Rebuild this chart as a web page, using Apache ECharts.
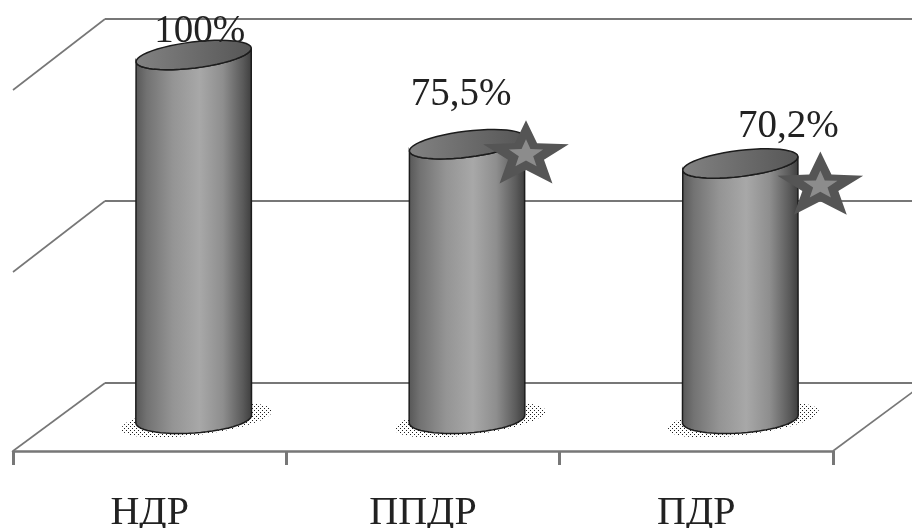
<!DOCTYPE html>
<html>
<head>
<meta charset="utf-8">
<style>html,body{margin:0;padding:0;background:#fff}#c{width:912px;height:528px}</style>
<script src="https://cdn.jsdelivr.net/npm/echarts@6/dist/echarts.min.js"></script>
</head>
<body>
<div id="c"></div>
<script>
const categories = ['НДР', 'ППДР', 'ПДР'];
const values = [100, 75.5, 70.2];
const valueLabels = ['100%', '75,5%', '70,2%'];
const marked = [0, 1, 1];
const wallTicks = [0, 50, 100];

// drawing style (offsets relative to each cylinder's top centre)
const labelShift = [[6, -23], [-6, -49], [48, -37]];
const starShift = [null, [59, 11], [80, 23]];
const RX = 58, RY = 13, TOP_TILT = -7, BASE_TILT = -4;
const FONT = '"Liberation Serif", "Times New Roman", serif';
const LINE = '#777777';

function ellipse(cx, cy, a, b, tiltDeg, from, to, n) {
  const pts = [], tilt = tiltDeg * Math.PI / 180;
  for (let i = 0; i <= n; i++) {
    const t = from + (to - from) * i / n;
    const x = a * Math.cos(t), y = b * Math.sin(t);
    pts.push([cx + x * Math.cos(tilt) - y * Math.sin(tilt),
              cy + x * Math.sin(tilt) + y * Math.cos(tilt)]);
  }
  return pts;
}
function star(cx, cy, rx, ry) {
  const pts = [];
  for (let i = 0; i < 10; i++) {
    const r = i % 2 ? 0.42 : 1, t = -Math.PI / 2 + i * Math.PI / 5;
    pts.push([cx + rx * r * Math.cos(t), cy + ry * r * Math.sin(t)]);
  }
  return pts;
}
const dither = document.createElement('canvas');
dither.width = dither.height = 4;
(function () {
  const g = dither.getContext('2d');
  g.fillStyle = '#fff'; g.fillRect(0, 0, 4, 4);
  g.fillStyle = '#222';
  g.fillRect(0, 0, 1, 1); g.fillRect(2, 2, 1, 1);
})();

const bodyFill = { type: 'linear', x: 0, y: 0, x2: 1, y2: 0, colorStops: [
  { offset: 0, color: '#565656' }, { offset: 0.1, color: '#727272' },
  { offset: 0.32, color: '#949494' }, { offset: 0.55, color: '#a8a8a8' },
  { offset: 0.75, color: '#8e8e8e' }, { offset: 0.92, color: '#5a5a5a' },
  { offset: 1, color: '#3c3c3c' }] };
const topFill = { type: 'linear', x: 0, y: 0, x2: 1, y2: 0, colorStops: [
  { offset: 0, color: '#828282' }, { offset: 1, color: '#565656' }] };

function renderCylinder(params, api) {
  const i = api.value(0);
  const top = api.coord([i, api.value(1)]);
  const base = api.coord([i, 0]);
  const cx = top[0];
  const body = ellipse(cx, top[1], RX, RY, TOP_TILT, Math.PI, 0, 30)
    .concat(ellipse(cx, base[1], RX, RY + 1, BASE_TILT, 0, Math.PI, 30));
  const children = [
    { type: 'polygon', shape: { points: ellipse(cx + 3, base[1] + 1, 76, 15, TOP_TILT, 0, Math.PI * 2, 48) },
      style: { fill: { image: dither, repeat: 'repeat' } } },
    { type: 'polygon', shape: { points: body },
      style: { fill: bodyFill, stroke: '#1c1c1c', lineWidth: 1.5 } },
    { type: 'polygon', shape: { points: ellipse(cx, top[1], RX, RY, TOP_TILT, 0, Math.PI * 2, 48) },
      style: { fill: topFill, stroke: '#1c1c1c', lineWidth: 1.5 } },
    { type: 'text', style: {
        text: valueLabels[i], x: cx + labelShift[i][0], y: top[1] + labelShift[i][1],
        align: 'center', verticalAlign: 'middle', fill: '#222222',
        font: '39px ' + FONT } }
  ];
  if (marked[i]) {
    const sx = cx + starShift[i][0], sy = top[1] + starShift[i][1];
    children.push(
      { type: 'polygon', shape: { points: star(sx, sy, 45, 35) }, style: { fill: '#555555' } },
      { type: 'polygon', shape: { points: star(sx, sy - 1, 18, 15) }, style: { fill: '#8c8c8c' } });
  }
  return { type: 'group', children };
}
function renderDepth(params, api) {
  const p = api.coord([api.value(0), api.value(1)]);
  const dy = api.value(1) === 0 ? 68 : 71;
  return { type: 'line',
    shape: { x1: p[0], y1: p[1], x2: p[0] - 92, y2: p[1] + dy },
    style: { stroke: LINE, lineWidth: 1.6 } };
}

const depthEdges = wallTicks.map(v => [0, v]).concat([[1, 0]]);

const chart = echarts.init(document.getElementById('c'), null, { renderer: 'canvas' });
chart.setOption({
  animation: false,
  backgroundColor: '#ffffff',
  grid: [
    { left: 13, width: 820, top: 60, height: 391, outerBoundsMode: 'none' },
    { left: 105, width: 820, top: 19, height: 364, outerBoundsMode: 'none' },
    { left: 57, width: 820, top: 55, height: 364, outerBoundsMode: 'none' }
  ],
  xAxis: [
    { gridIndex: 0, type: 'category', data: categories,
      axisLine: { lineStyle: { color: LINE, width: 2.5 } },
      axisTick: { show: true, length: 14, lineStyle: { color: LINE, width: 3 } },
      axisLabel: { margin: 42, color: '#222222', fontSize: 40, fontFamily: FONT } },
    { gridIndex: 1, type: 'value', min: 0, max: 1, show: false },
    { gridIndex: 2, type: 'category', data: categories, show: false }
  ],
  yAxis: [
    { gridIndex: 0, type: 'value', min: 0, max: 100, show: false },
    { gridIndex: 1, type: 'value', min: 0, max: 100, interval: 50,
      axisLine: { show: false }, axisTick: { show: false }, axisLabel: { show: false },
      splitLine: { show: true, lineStyle: { color: LINE, width: 2 } } },
    { gridIndex: 2, type: 'value', min: 0, max: 100, show: false }
  ],
  series: [
    { type: 'custom', xAxisIndex: 1, yAxisIndex: 1, z: 1, silent: true,
      renderItem: renderDepth, data: depthEdges, clip: false },
    { type: 'custom', xAxisIndex: 2, yAxisIndex: 2, z: 5, silent: true,
      renderItem: renderCylinder, clip: false,
      data: values.map((v, i) => [i, v]) }
  ]
});
</script>
</body>
</html>
